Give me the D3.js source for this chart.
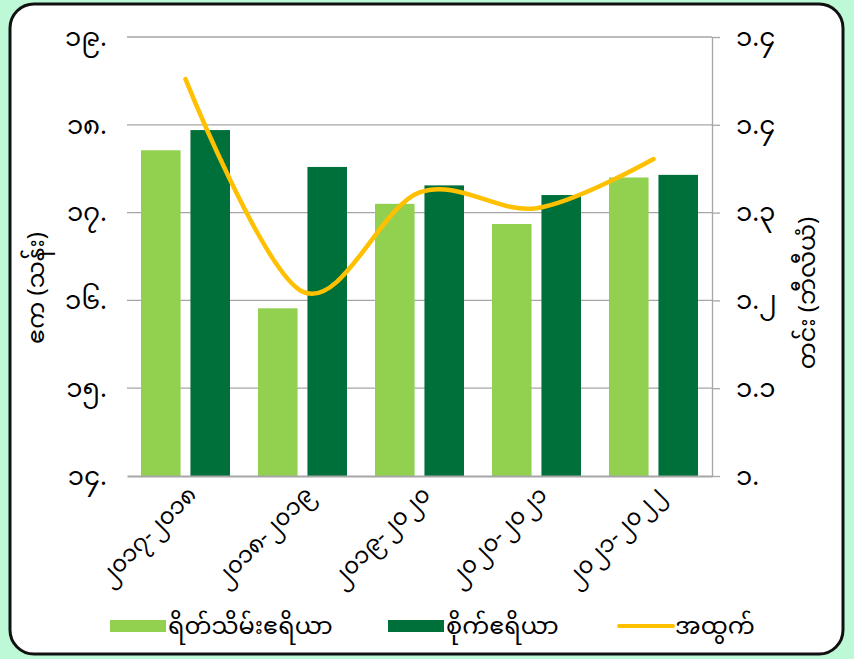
<!DOCTYPE html>
<html>
<head>
<meta charset="utf-8">
<script src="https://cdn.jsdelivr.net/npm/d3@7"></script>
<style>
  html, body { margin: 0; padding: 0; background: #bdf9d6; }
  text { font-family: "Noto Sans Myanmar", "Padauk", "Myanmar Text", "Noto Sans", sans-serif; fill: #000; }
</style>
</head>
<body>
<div id="chart"></div>
<script>
// categories (fiscal years)
const years = ["၂၀၁၇-၂၀၁၈", "၂၀၁၈-၂၀၁၉", "၂၀၁၉-၂၀၂၀", "၂၀၂၀-၂၀၂၁", "၂၀၂၁-၂၀၂၂"];
// million acres
const harvested = [17.71, 15.91, 17.10, 16.87, 17.40];
const sown = [17.94, 17.52, 17.31, 17.20, 17.43];
// production, billion baskets
const production = [1.452, 1.21, 1.323, 1.305, 1.361];

const leftTicks = [14, 15, 16, 17, 18, 19];
const leftTickLabels = ["၁၄.", "၁၅.", "၁၆.", "၁၇.", "၁၈.", "၁၉."];
const rightTicks = [1.0, 1.1, 1.2, 1.3, 1.4, 1.5];
const rightTickLabels = ["၁.", "၁.၁", "၁.၂", "၁.၃", "၁.၄", "၁.၄"];

const seriesNames = ["ရိတ်သိမ်းဧရိယာ", "စိုက်ဧရိယာ", "အထွက်"];
const colors = ["#92d050", "#00703a", "#ffc000"];

const W = 854, H = 659;
const margin = {top: 37, right: 142, bottom: 183, left: 127};
const width = W - margin.left - margin.right;
const height = H - margin.top - margin.bottom;

const svg = d3.select("#chart").append("svg")
    .attr("width", W)
    .attr("height", H);

// card
svg.append("rect")
    .attr("x", 10).attr("y", 4)
    .attr("width", 833).attr("height", 650)
    .attr("rx", 24).attr("ry", 24)
    .attr("fill", "#fff")
    .attr("stroke", "#111")
    .attr("stroke-width", 3);

const g = svg.append("g")
    .attr("transform", `translate(${margin.left}, ${margin.top})`);

const x0 = d3.scaleBand().domain(years).range([0, width]);
const x1 = d3.scaleBand().domain([0, 1])
    .range([14, x0.bandwidth() - 14])
    .paddingInner(0.2);
const yL = d3.scaleLinear().domain([14, 19]).range([height, 0]);
const yR = d3.scaleLinear().domain([1.0, 1.5]).range([height, 0]);

// gridlines
g.append("g")
    .selectAll("line")
    .data(leftTicks.slice(1))
    .enter().append("line")
    .attr("x1", 0).attr("x2", width)
    .attr("y1", d => yL(d)).attr("y2", d => yL(d))
    .attr("stroke", "#a6a6a6")
    .attr("stroke-width", 1.3);

// bars
const bars = [harvested, sown];
bars.forEach((vals, s) => {
    g.append("g")
        .selectAll("rect")
        .data(vals)
        .enter().append("rect")
        .attr("x", (d, i) => x0(years[i]) + x1(s))
        .attr("y", d => yL(d))
        .attr("width", x1.bandwidth())
        .attr("height", d => height - yL(d))
        .attr("fill", colors[s]);
});

// left axis
const axisL = d3.axisLeft(yL)
    .tickValues(leftTicks)
    .tickSize(0)
    .tickPadding(20)
    .tickFormat((d, i) => leftTickLabels[i]);
const gL = g.append("g").call(axisL);
gL.select(".domain").remove();
gL.selectAll("text").style("font-size", "26px");

// right axis
const axisR = d3.axisRight(yR)
    .tickValues(rightTicks)
    .tickSizeInner(8)
    .tickSizeOuter(0)
    .tickPadding(16)
    .tickFormat((d, i) => rightTickLabels[i]);
const gR = g.append("g")
    .attr("transform", `translate(${width}, 0)`)
    .call(axisR);
gR.selectAll("path, line").attr("stroke", "#a6a6a6").attr("stroke-width", 1.3);
gR.selectAll("text").style("font-size", "26px");

// bottom axis
const axisB = d3.axisBottom(x0).tickSize(0).tickPadding(0).tickFormat("");
const gB = g.append("g")
    .attr("transform", `translate(0, ${height})`)
    .call(axisB);
gB.select(".domain").attr("stroke", "#a6a6a6").attr("stroke-width", 2);

g.append("g")
    .selectAll("text")
    .data(years)
    .enter().append("text")
    .attr("transform", d => `translate(${x0(d) + x0.bandwidth() / 2 + 12}, ${height + 20}) rotate(-45)`)
    .attr("text-anchor", "end")
    .style("font-size", "23px")
    .text(d => d);

// production line
const line = d3.line()
    .x((d, i) => x0(years[i]) + x0.bandwidth() / 2)
    .y(d => yR(d))
    .curve(d3.curveCardinal.tension(0));
g.append("path")
    .datum(production)
    .attr("fill", "none")
    .attr("stroke", colors[2])
    .attr("stroke-width", 4.5)
    .attr("stroke-linecap", "round")
    .attr("d", line);

// axis titles
svg.append("text")
    .attr("transform", "translate(44, 288) rotate(-90)")
    .attr("text-anchor", "middle")
    .style("font-size", "24px")
    .text("ဧက (သန်း)");
svg.append("text")
    .attr("transform", "translate(815, 293) rotate(-90)")
    .attr("text-anchor", "middle")
    .style("font-size", "24px")
    .text("တင်း (ဘီလီယံ)");

// legend
const legend = svg.append("g").attr("transform", "translate(0, 626)");
const legX = [110, 388, 617];
seriesNames.forEach((name, i) => {
    const item = legend.append("g").attr("transform", `translate(${legX[i]}, 0)`);
    if (i < 2) {
        item.append("rect")
            .attr("x", 0).attr("y", -6)
            .attr("width", 56).attr("height", 12)
            .attr("fill", colors[i]);
    } else {
        item.append("line")
            .attr("x1", 2).attr("x2", 56)
            .attr("stroke", colors[i])
            .attr("stroke-width", 4)
            .attr("stroke-linecap", "round");
    }
    item.append("text")
        .attr("x", 58).attr("y", 0)
        .attr("dy", "0.35em")
        .style("font-size", "24px")
        .text(name);
});
</script>
</body>
</html>
